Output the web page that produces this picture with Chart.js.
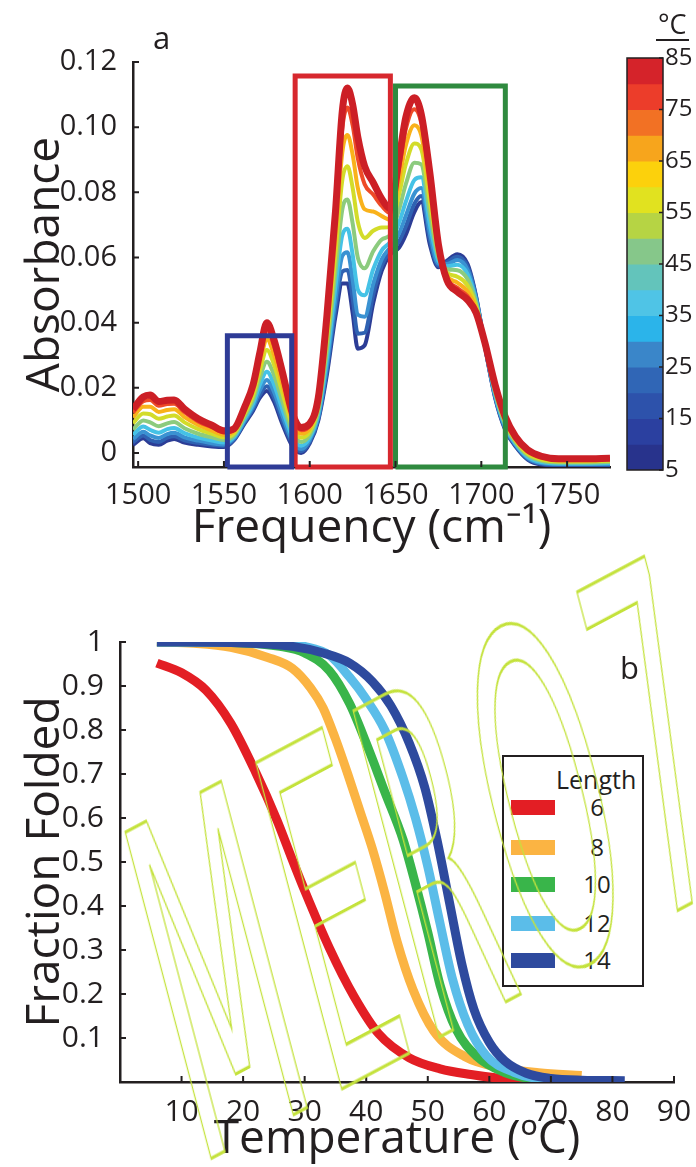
<!DOCTYPE html>
<html>
<head>
<meta charset="utf-8">
<script src="https://cdn.jsdelivr.net/npm/chart.js@4.4.1/dist/chart.umd.min.js"></script>
<style>
  html, body { margin: 0; padding: 0; background: #fff; }
  body { width: 696px; height: 1167px; position: relative; overflow: hidden; font-family: 'Open Sans', sans-serif; color: #231f20; }
  canvas { position: absolute; }
  #spec { left: 0; top: 0; }
  #cbar { left: 600px; top: 20px; }
  #fold { left: 0; top: 560px; }
  .tag { position: absolute; font-size: 31px; line-height: 1; }
  #unit { position: absolute; left: 656px; top: 10px; font-size: 27px; line-height: 1; border-bottom: 2px solid #231f20; padding: 0 2px 2px 2px; }
  #legend { position: absolute; left: 502px; top: 755px; width: 142px; height: 232px; border: 2.5px solid #231f20; background: #fff; box-sizing: border-box; }
  #legend .hd { position: absolute; left: 52px; top: 7px; font-size: 25px; line-height: 30px; }
  #legend .sw { position: absolute; left: 7px; width: 44px; height: 15px; }
  #legend .lb { position: absolute; left: 68px; width: 50px; text-align: center; font-size: 24px; line-height: 28px; }
  #wm { position: absolute; left: 0; top: 0; pointer-events: none; }
</style>
</head>
<body>
<canvas id="spec" width="620" height="560"></canvas>
<canvas id="cbar" width="96" height="470"></canvas>
<canvas id="fold" width="696" height="607"></canvas>
<div class="tag" style="left:153px; top:22px;">a</div>
<div class="tag" style="left:620px; top:652px;">b</div>
<div id="unit">°C</div>
<div id="legend"><div class="hd">Length</div></div>
<svg id="wm" width="696" height="1167">
  <text transform="translate(197,1166) skewY(-28) skewX(13) scale(1.6,5.1)" letter-spacing="4" font-family="DejaVu Sans Condensed, Liberation Sans Narrow, DejaVu Sans" font-size="100" fill="none" stroke="#c4e23c" stroke-width="2.5" vector-effect="non-scaling-stroke">MERO7</text>
</svg>
<script>
const ink = '#231f20';

// ---- panel a: IR spectra, one curve per temperature ----
const freqs = [1497, 1503, 1507, 1512, 1517, 1521, 1527, 1535, 1543, 1550,
               1556, 1562, 1567, 1571, 1575, 1579, 1584, 1590, 1595, 1600,
               1605, 1610, 1615, 1619, 1622, 1625, 1628, 1632, 1637, 1642,
               1647, 1652, 1656, 1661, 1665, 1670, 1675, 1680, 1686, 1692,
               1697, 1702, 1708, 1714, 1720, 1727, 1735, 1745, 1760, 1775];

const abs5 = [.0025,.0045,.0030,.0025,.0038,.0043,.0032,.0025,.0020,.0018,
              .0040,.0090,.0130,.0170,.0190,.0160,.0090,.0020,.0000,.0030,
              .0100,.0240,.0420,.0520,.0520,.0430,.0320,.0330,.0460,.0560,
              .0610,.0630,.0670,.0740,.0770,.0640,.0570,.0590,.0610,.0580,
              .0480,.0330,.0170,.0070,.0020,-.0020,-.0035,-.0037,-.0037,-.0037];
const abs15 = [.0033,.0054,.0040,.0034,.0047,.0051,.0039,.0031,.0025,.0022,
               .0042,.0094,.0136,.0179,.0205,.0173,.0101,.0027,.0005,.0034,
               .0105,.0253,.0442,.0557,.0562,.0475,.0366,.0369,.0486,.0575,
               .0620,.0649,.0695,.0765,.0789,.0655,.0575,.0586,.0602,.0572,
               .0477,.0331,.0173,.0073,.0022,-.0018,-.0033,-.0036,-.0036,-.0036];
const abs25 = [.0043,.0065,.0054,.0046,.0058,.0062,.0048,.0038,.0030,.0026,
               .0046,.0098,.0143,.0193,.0224,.0190,.0116,.0036,.0012,.0040,
               .0111,.0269,.0471,.0605,.0616,.0532,.0424,.0418,.0519,.0595,
               .0632,.0673,.0728,.0796,.0813,.0675,.0581,.0580,.0592,.0562,
               .0472,.0332,.0176,.0076,.0025,-.0015,-.0031,-.0034,-.0034,-.0034];
const abs35 = [.0056,.0081,.0071,.0062,.0073,.0077,.0061,.0047,.0038,.0032,
               .0050,.0104,.0152,.0210,.0249,.0213,.0135,.0048,.0022,.0047,
               .0120,.0290,.0510,.0668,.0688,.0609,.0502,.0484,.0564,.0622,
               .0649,.0706,.0771,.0838,.0846,.0702,.0590,.0573,.0578,.0549,
               .0466,.0333,.0181,.0081,.0028,-.0012,-.0028,-.0032,-.0032,-.0031];
const abs45 = [.0072,.0100,.0094,.0082,.0091,.0095,.0076,.0059,.0048,.0040,
               .0055,.0112,.0164,.0232,.0280,.0242,.0159,.0063,.0034,.0056,
               .0130,.0317,.0558,.0748,.0778,.0705,.0600,.0567,.0619,.0655,
               .0670,.0746,.0825,.0891,.0886,.0735,.0600,.0564,.0561,.0533,
               .0459,.0334,.0187,.0087,.0033,-.0007,-.0024,-.0029,-.0029,-.0028];
const abs55 = [.0091,.0121,.0119,.0105,.0112,.0115,.0094,.0073,.0059,.0048,
               .0061,.0120,.0178,.0254,.0316,.0274,.0186,.0080,.0047,.0066,
               .0142,.0348,.0612,.0838,.0880,.0814,.0710,.0660,.0682,.0692,
               .0694,.0792,.0886,.0950,.0932,.0772,.0612,.0554,.0541,.0514,
               .0450,.0336,.0194,.0094,.0038,-.0002,-.0020,-.0026,-.0026,-.0024];
const abs65 = [.0109,.0142,.0142,.0126,.0132,.0134,.0110,.0086,.0069,.0056,
               .0067,.0128,.0191,.0276,.0350,.0304,.0212,.0096,.0059,.0076,
               .0153,.0377,.0663,.0923,.0976,.0916,.0814,.0748,.0741,.0727,
               .0716,.0835,.0944,.1006,.0975,.0807,.0623,.0544,.0523,.0496,
               .0442,.0338,.0200,.0100,.0043,.0003,-.0016,-.0023,-.0023,-.0021];
const abs75 = [.0124,.0159,.0163,.0145,.0150,.0151,.0125,.0097,.0079,.0063,
               .0072,.0135,.0202,.0295,.0379,.0331,.0234,.0110,.0070,.0084,
               .0163,.0402,.0708,.0997,.1060,.1006,.0905,.0825,.0793,.0758,
               .0736,.0873,.0994,.1055,.1013,.0838,.0633,.0536,.0507,.0481,
               .0435,.0339,.0206,.0106,.0047,.0007,-.0013,-.0020,-.0020,-.0018];
const abs85 = [.0135,.0172,.0178,.0158,.0162,.0163,.0135,.0105,.0085,.0068,
               .0075,.0140,.0210,.0310,.0400,.0350,.0250,.0120,.0078,.0090,
               .0170,.0420,.0740,.1050,.1120,.1070,.0970,.0880,.0830,.0780,
               .0750,.0900,.1030,.1090,.1040,.0860,.0640,.0530,.0495,.0470,
               .0430,.0340,.0210,.0110,.0050,.0010,-.0010,-.0018,-.0018,-.0016];

const specTemps = [85, 75, 65, 55, 45, 35, 25, 15, 5];
const specSeries = [abs85, abs75, abs65, abs55, abs45, abs35, abs25, abs15, abs5];
const specColors = ['#cc1f26', '#ee4b28', '#f9b21b', '#d3dc2a', '#8ccb7e', '#45c2e6', '#3a92d2', '#2f62b2', '#2c3d96'];

const freqTicks = [1500, 1550, 1600, 1650, 1700, 1750];
const absTicks = [0, 0.02, 0.04, 0.06, 0.08, 0.10, 0.12];
const absMin = -0.0043, absMax = 0.12;

// highlighted band regions
const boxLo = [1552, 1591.5, 1650];
const boxHi = [1589.5, 1647, 1714];
const boxTop = [0.036, 0.1157, 0.1126];
const boxColors = ['#2e3b96', '#d7282e', '#2f8a3f'];

// colour bar (temperature scale)
const bandLo = [5, 10, 15, 20, 25, 30, 35, 40, 45, 50, 55, 60, 65, 70, 75, 80];
const bandColors = ['#28338c', '#2b40a0', '#2d52ab', '#3066b6', '#3a86c9', '#2bb4ea', '#4fc4e6', '#63c4bb',
                    '#86c78a', '#b6d444', '#e1e21f', '#fcd10c', '#f7a51c', '#f27124', '#ec3d2a', '#d5232a'];
const cbarTicks = [5, 15, 25, 35, 45, 55, 65, 75, 85];

// ---- panel b: fraction folded vs temperature ----
const lenLabels = ['6', '8', '10', '12', '14'];
const lenColors = ['#e31e24', '#fbb443', '#39b54a', '#5bbde9', '#2e4a9e'];
const len6T  = [6, 10, 14, 18, 22, 25.5, 28, 30, 34, 38, 42, 47, 52, 57, 62, 66, 70];
const len6F  = [0.952, 0.93, 0.89, 0.815, 0.705, 0.595, 0.505, 0.435, 0.305, 0.195, 0.11, 0.055, 0.03, 0.017, 0.008, 0.004, 0.002];
const len8T  = [6, 12, 18, 24, 28, 31, 33, 35, 37, 39, 41, 43, 45, 47.6, 51, 56, 62, 68, 75];
const len8F  = [1.0, 0.997, 0.988, 0.965, 0.94, 0.895, 0.85, 0.78, 0.70, 0.615, 0.53, 0.43, 0.32, 0.21, 0.115, 0.058, 0.032, 0.021, 0.015];
const len10T = [6, 20, 26, 30, 34, 37.3, 40, 43, 46, 48, 50, 52, 54.6, 58, 62.4, 66, 72, 80];
const len10F = [1.0, 0.998, 0.99, 0.975, 0.935, 0.86, 0.77, 0.66, 0.55, 0.45, 0.34, 0.22, 0.12, 0.058, 0.022, 0.009, 0.003, 0.002];
const len12T = [6, 25, 30, 34, 37.3, 40, 43, 46, 48, 50, 52, 54, 56.5, 59.5, 64, 68, 80];
const len12F = [1.0, 0.998, 0.99, 0.97, 0.92, 0.87, 0.80, 0.69, 0.60, 0.49, 0.36, 0.235, 0.13, 0.06, 0.022, 0.008, 0.002];
const len14T = [6, 20, 28, 33, 37.3, 41, 44, 47, 49.5, 51.5, 53.5, 55.5, 57.5, 60, 62.5, 66, 70, 75, 82];
const len14F = [1.0, 0.998, 0.99, 0.975, 0.952, 0.91, 0.855, 0.77, 0.67, 0.55, 0.41, 0.27, 0.165, 0.09, 0.048, 0.02, 0.008, 0.004, 0.003];
const lenT = [len6T, len8T, len10T, len12T, len14T];
const lenF = [len6F, len8F, len10F, len12F, len14F];
const tempTicks = [10, 20, 30, 40, 50, 60, 70, 80, 90];
const fracTicks = [0.1, 0.2, 0.3, 0.4, 0.5, 0.6, 0.7, 0.8, 0.9, 1];

function pairs(xs, ys) {
  return xs.map((x, i) => ({ x: x, y: ys[i] }));
}

// short tick marks pointing into the plot, like the original figure
const inwardTicks = {
  id: 'inwardTicks',
  afterDraw(chart, args, opts) {
    if (!opts.len) return;
    const { ctx, chartArea, scales } = chart;
    ctx.save();
    ctx.strokeStyle = ink;
    ctx.lineWidth = 2;
    ctx.beginPath();
    scales.x.ticks.forEach(t => {
      const px = scales.x.getPixelForValue(t.value);
      ctx.moveTo(px, chartArea.bottom);
      ctx.lineTo(px, chartArea.bottom - opts.len);
    });
    scales.y.ticks.forEach(t => {
      const py = scales.y.getPixelForValue(t.value);
      ctx.moveTo(chartArea.left, py);
      ctx.lineTo(chartArea.left + opts.len, py);
    });
    ctx.stroke();
    ctx.restore();
  }
};

const frameBox = {
  id: 'frameBox',
  afterDraw(chart, args, opts) {
    if (!opts.on) return;
    const { ctx, chartArea: a } = chart;
    ctx.save();
    ctx.strokeStyle = ink;
    ctx.lineWidth = 1.5;
    ctx.strokeRect(a.left, a.top, a.right - a.left, a.bottom - a.top);
    ctx.beginPath();
    cbarTicks.forEach(v => {
      const py = chart.scales.y.getPixelForValue(v);
      ctx.moveTo(a.right, py);
      ctx.lineTo(a.right - 4, py);
    });
    ctx.stroke();
    ctx.restore();
  }
};

Chart.register(inwardTicks, frameBox);

// panel a
const specSets = specSeries.map((ys, i) => ({
  label: specTemps[i] + ' °C',
  data: pairs(freqs, ys),
  borderColor: specColors[i],
  borderWidth: specTemps[i] === 85 ? 7 : 4,
  pointRadius: 0,
  cubicInterpolationMode: 'monotone',
  order: i + 1
}));
const boxSets = boxLo.map((lo, i) => ({
  label: 'box' + i,
  data: [{ x: lo, y: absMin }, { x: lo, y: boxTop[i] }, { x: boxHi[i], y: boxTop[i] },
         { x: boxHi[i], y: absMin }, { x: lo, y: absMin }],
  borderColor: boxColors[i],
  borderWidth: 5,
  borderJoinStyle: 'miter',
  pointRadius: 0,
  tension: 0,
  clip: false,
  order: 0
}));

new Chart(document.getElementById('spec'), {
  type: 'line',
  data: { datasets: specSets.concat(boxSets) },
  options: {
    responsive: false,
    animation: false,
    layout: { padding: { top: 62, right: 10, left: 0, bottom: 0 } },
    plugins: { legend: { display: false }, tooltip: { enabled: false }, inwardTicks: { len: 6 } },
    scales: {
      x: {
        type: 'linear', min: 1497, max: 1775,
        afterBuildTicks: s => { s.ticks = freqTicks.map(v => ({ value: v })); },
        afterFit: s => { s.height = 93; },
        ticks: { color: ink, font: { family: 'Open Sans', size: 29 }, padding: 3, maxRotation: 0, autoSkip: false,
                 callback: v => String(v) },
        grid: { display: false },
        border: { display: true, color: ink, width: 2.5 },
        title: { display: true, text: 'Frequency (cm⁻¹)', color: ink, font: { family: 'Open Sans', size: 46 }, padding: { top: 0, bottom: 4 } }
      },
      y: {
        type: 'linear', min: absMin, max: absMax,
        afterBuildTicks: s => { s.ticks = absTicks.map(v => ({ value: v })); },
        afterFit: s => { s.width = 133; },
        ticks: { color: ink, font: { family: 'Open Sans', size: 29 }, padding: 8,
                 callback: v => v === 0 ? '0' : v.toFixed(2) },
        grid: { display: false },
        border: { display: true, color: ink, width: 2.5 },
        title: { display: true, text: 'Absorbance', color: ink, font: { family: 'Open Sans', size: 46 }, padding: { top: 18, bottom: 0 } }
      }
    }
  }
});

// colour bar
new Chart(document.getElementById('cbar'), {
  type: 'bar',
  data: {
    datasets: [{
      data: bandLo.map((lo, i) => ({ y: lo + 2.5, x: [0, 1] })),
      backgroundColor: bandColors,
      borderWidth: 0,
      barPercentage: 1,
      categoryPercentage: 1.03
    }]
  },
  options: {
    indexAxis: 'y',
    responsive: false,
    animation: false,
    layout: { padding: { left: 27, top: 38, bottom: 20, right: 0 } },
    plugins: { legend: { display: false }, tooltip: { enabled: false }, frameBox: { on: true } },
    scales: {
      x: { type: 'linear', min: 0, max: 1, display: false, offset: false },
      y: {
        type: 'linear', position: 'right', min: 5, max: 85, offset: false,
        afterBuildTicks: s => { s.ticks = cbarTicks.map(v => ({ value: v })); },
        afterFit: s => { s.width = 33; },
        ticks: { color: ink, font: { family: 'Open Sans', size: 24 }, padding: 2 },
        grid: { display: false, drawTicks: false, tickLength: 0 },
        border: { display: false }
      }
    }
  }
});

// panel b
const foldSets = lenLabels.map((lab, i) => ({
  label: lab,
  data: pairs(lenT[i], lenF[i]),
  borderColor: lenColors[i],
  borderWidth: 9,
  pointRadius: 0,
  cubicInterpolationMode: 'monotone',
  borderCapStyle: 'butt',
  order: lenLabels.length - i
}));

new Chart(document.getElementById('fold'), {
  type: 'line',
  data: { datasets: foldSets },
  options: {
    responsive: false,
    animation: false,
    layout: { padding: { top: 82, right: 22, left: 0, bottom: 0 } },
    plugins: { legend: { display: false }, tooltip: { enabled: false }, inwardTicks: { len: 6 } },
    scales: {
      x: {
        type: 'linear', min: 0, max: 90,
        afterBuildTicks: s => { s.ticks = tempTicks.map(v => ({ value: v })); },
        afterFit: s => { s.height = 85; },
        ticks: { color: ink, font: { family: 'Open Sans', size: 30 }, padding: 4, maxRotation: 0, autoSkip: false },
        grid: { display: false },
        border: { display: true, color: ink, width: 2.5 },
        title: { display: true, text: 'Temperature (ºC)', color: ink, font: { family: 'Open Sans', size: 46 }, padding: { top: 0, bottom: 0 } }
      },
      y: {
        type: 'linear', min: 0, max: 1,
        afterBuildTicks: s => { s.ticks = fracTicks.map(v => ({ value: v })); },
        afterFit: s => { s.width = 120; },
        ticks: { color: ink, font: { family: 'Open Sans', size: 30 }, padding: 8,
                 callback: v => v === 1 ? '1' : v.toFixed(1) },
        grid: { display: false },
        border: { display: true, color: ink, width: 2.5 },
        title: { display: true, text: 'Fraction Folded', color: ink, font: { family: 'Open Sans', size: 46 }, padding: { top: 18, bottom: 0 } }
      }
    }
  }
});

// legend box for panel b
const legend = document.getElementById('legend');
const rowMids = [50, 90, 127, 166, 203];
lenLabels.forEach((lab, i) => {
  const sw = document.createElement('div');
  sw.className = 'sw';
  sw.style.top = (rowMids[i] - 7) + 'px';
  sw.style.background = lenColors[i];
  const lb = document.createElement('div');
  lb.className = 'lb';
  lb.style.top = (rowMids[i] - 14) + 'px';
  lb.textContent = lab;
  legend.appendChild(sw);
  legend.appendChild(lb);
});
</script>
</body>
</html>
